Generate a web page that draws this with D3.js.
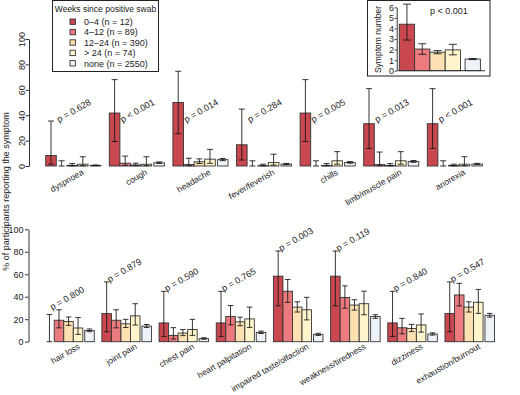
<!DOCTYPE html>
<html><head><meta charset="utf-8">
<script src="https://cdn.jsdelivr.net/npm/d3@7"></script>
<style>
body{margin:0;background:#fff;}
svg text{font-family:"Liberation Sans",Arial,Helvetica,sans-serif;fill:#222;}
</style></head>
<body><svg id="c" width="520" height="395"></svg>
<script>
// ---------- data ----------
const seriesLabels = ["0\u20134 (n = 12)","4\u201312 (n = 89)","12\u201324 (n = 390)","> 24 (n = 74)","none (n = 2550)"];
const seriesColors = ["#c9484f","#eb7b7e","#fde1b3","#fef5cd","#eef3fa"];

const topCategories = ["dyspnoea","cough","headache","fever/feverish","chills","limb/muscle pain","anorexia"];
const topP = ["p = 0.628","p < 0.001","p = 0.014","p = 0.284","p = 0.005","p = 0.013","p < 0.001"];
const top_w0_4    = [8.3, 41.7, 50.0, 16.7, 41.7, 33.3, 33.3];
const top_w0_4Lo  = [1.5, 19.3, 25.4, 4.7, 19.3, 13.8, 13.8];
const top_w0_4Hi  = [35.4, 68.0, 74.6, 44.8, 68.0, 60.9, 60.9];
const top_w4_12   = [0, 2.2, 1.1, 0, 0, 1.1, 0];
const top_w4_12Lo = [0, 0.6, 0.2, 0, 0, 0.2, 0];
const top_w4_12Hi = [4.1, 7.8, 6.1, 4.1, 4.1, 11.0, 4.1];
const top_w12_24   = [0.5, 0.8, 3.3, 0.3, 0.5, 0.5, 0.5];
const top_w12_24Lo = [0.1, 0.3, 2.0, 0.05, 0.1, 0.1, 0.1];
const top_w12_24Hi = [1.9, 2.2, 5.6, 1.4, 1.9, 1.9, 1.4];
const top_w24   = [1.4, 1.4, 5.4, 2.7, 4.1, 4.1, 1.4];
const top_w24Lo = [0.2, 0.2, 2.1, 0.7, 1.4, 1.4, 0.2];
const top_w24Hi = [7.3, 7.3, 13.1, 9.3, 11.3, 11.3, 7.3];
const top_none   = [0.5, 2.5, 5.0, 1.5, 2.8, 3.5, 1.5];
const top_noneLo = [0.3, 2.0, 4.2, 1.1, 2.2, 2.9, 1.1];
const top_noneHi = [0.8, 3.2, 5.9, 2.0, 3.5, 4.3, 2.1];

const botCategories = ["hair loss","joint pain","chest pain","heart palpitation","impaired taste/olfaction","weakness/tiredness","dizziness","exhaustion/burnout"];
const botP = ["p = 0.800","p = 0.879","p = 0.590","p = 0.765","p = 0.003","p = 0.119","p = 0.840","p = 0.547"];
const bot_w0_4    = [0, 25.0, 16.7, 16.7, 58.3, 58.3, 16.7, 25.0];
const bot_w0_4Lo  = [0, 8.9, 4.7, 4.7, 31.9, 31.9, 4.7, 8.9];
const bot_w0_4Hi  = [24.2, 53.2, 44.8, 44.8, 80.7, 80.7, 44.8, 53.2];
const bot_w4_12   = [19.1, 19.1, 5.6, 22.5, 44.9, 39.3, 12.4, 41.6];
const bot_w4_12Lo = [12.3, 12.3, 2.4, 15.0, 35.0, 29.8, 7.0, 31.9];
const bot_w4_12Hi = [28.4, 28.4, 12.5, 32.2, 55.3, 49.7, 20.8, 51.9];
const bot_w12_24   = [17.9, 15.9, 7.7, 17.7, 30.8, 32.6, 11.8, 30.8];
const bot_w12_24Lo = [14.5, 12.6, 5.4, 14.2, 26.4, 28.1, 9.0, 26.4];
const bot_w12_24Hi = [22.0, 19.9, 10.8, 21.8, 35.5, 37.3, 15.4, 35.5];
const bot_w24   = [12.2, 23.0, 10.8, 20.3, 28.4, 33.8, 14.9, 35.1];
const bot_w24Lo = [6.5, 14.8, 5.6, 12.7, 19.4, 24.0, 8.5, 25.2];
const bot_w24Hi = [21.5, 33.8, 19.9, 30.8, 39.5, 44.9, 24.7, 46.5];
const bot_none   = [10.0, 13.9, 2.7, 8.3, 6.5, 22.4, 6.8, 23.5];
const bot_noneLo = [8.9, 12.6, 2.2, 7.3, 5.6, 20.8, 5.9, 21.9];
const bot_noneHi = [11.3, 15.3, 3.5, 9.4, 7.5, 24.0, 7.9, 25.2];

const pctTicks = [0, 20, 40, 60, 80, 100];

const symptomNumber   = [4.4, 2.05, 1.75, 1.97, 1.1];
const symptomNumberLo = [2.9, 1.55, 1.6, 1.5, 1.05];
const symptomNumberHi = [6.3, 2.55, 1.9, 2.5, 1.15];
const symptomTicks = [0,1,2,3,4,5,6];
const symptomP = "p < 0.001";

// ---------- drawing ----------
const svg = d3.select("#c");
const FS = 9;
const CAT_FS = 8.5;
const slotOffsets = [0, 1, 2, 3, 4.2];
const UNITS = 6;
const errColor = "rgba(20,20,20,0.85)";
const intFmt = d3.format("d");

function drawPanel(cfg){
  const g = svg.append("g");
  const n = cfg.cats.length;
  const x = d3.scaleLinear().domain([0, n*UNITS]).range([cfg.x0, cfg.x0 + n*UNITS*cfg.bw]);
  const y = d3.scaleLinear().domain([0,100]).range([cfg.yBottom, cfg.yTop]);
  const bw = x(1) - x(0);
  const vals = [cfg.v0,cfg.v1,cfg.v2,cfg.v3,cfg.v4];
  const los = [cfg.l0,cfg.l1,cfg.l2,cfg.l3,cfg.l4];
  const his = [cfg.h0,cfg.h1,cfg.h2,cfg.h3,cfg.h4];

  const ax = g.append("g").attr("transform",`translate(${cfg.axisX},0)`)
    .call(d3.axisLeft(y).tickValues(pctTicks).tickFormat(intFmt).tickSize(3.5).tickSizeOuter(0).tickPadding(1.5));
  ax.select(".domain").attr("stroke","#333");
  ax.selectAll(".tick line").attr("stroke","#333");
  ax.selectAll(".tick text").attr("font-size",FS).attr("fill","#222")
    .style("font-family","'Liberation Sans',Arial,sans-serif");
  if(cfg.rotTicks){
    ax.selectAll(".tick text").attr("transform","rotate(-90)")
      .attr("x",0).attr("y",-4.5).attr("dy",0).attr("text-anchor","middle");
  }

  for(let j=0;j<5;j++){
    for(let i=0;i<n;i++){
      const bx = x(i*UNITS + slotOffsets[j]);
      const v = vals[j][i];
      g.append("rect").attr("x",bx).attr("y",y(v)).attr("width",bw)
        .attr("height",Math.max(0,y(0)-y(v)))
        .attr("fill",seriesColors[j]).attr("stroke","#333").attr("stroke-width",0.9);
    }
  }
  for(let j=0;j<5;j++){
    for(let i=0;i<n;i++){
      const cx = x(i*UNITS + slotOffsets[j]) + bw/2;
      const lo = los[j][i], hi = his[j][i];
      const cw = cfg.cap/2;
      g.append("line").attr("x1",cx).attr("x2",cx).attr("y1",y(lo)).attr("y2",y(hi))
        .attr("stroke",errColor).attr("stroke-width",1);
      [lo,hi].forEach(e=>{
        g.append("line").attr("x1",cx-cw).attr("x2",cx+cw).attr("y1",y(e)).attr("y2",y(e))
          .attr("stroke",errColor).attr("stroke-width",1);
      });
    }
  }
  for(let i=0;i<n;i++){
    const cx = x(i*UNITS + 2.6);
    g.append("text").attr("text-anchor","end").attr("font-size",CAT_FS)
      .attr("transform",`translate(${cx+11},${cfg.yBottom+cfg.labelDy}) rotate(-30)`)
      .text(cfg.cats[i]);
  }
  for(let i=0;i<n;i++){
    let px, py;
    if(cfg.pFixed !== undefined){
      px = x(i*UNITS + 1.25); py = y(cfg.pFixed);
    } else {
      px = x(i*UNITS + 0.8);
      py = y(d3.max(his, h=>h[i])) + 0.5;
    }
    g.append("text").attr("font-size",FS)
      .attr("transform",`translate(${px},${py}) rotate(-30)`)
      .text(cfg.p[i]);
  }
}

drawPanel({cats:topCategories,p:topP,x0:45.7,bw:10.6,yBottom:166,yTop:39,axisX:29,rotTicks:true,cap:6,pFixed:34,labelDy:8,
  v0:top_w0_4,l0:top_w0_4Lo,h0:top_w0_4Hi,v1:top_w4_12,l1:top_w4_12Lo,h1:top_w4_12Hi,
  v2:top_w12_24,l2:top_w12_24Lo,h2:top_w12_24Hi,v3:top_w24,l3:top_w24Lo,h3:top_w24Hi,
  v4:top_none,l4:top_noneLo,h4:top_noneHi});

drawPanel({cats:botCategories,p:botP,x0:44.7,bw:9.53,yBottom:341.7,yTop:229.3,axisX:28.5,rotTicks:false,cap:5.5,labelDy:6.5,
  v0:bot_w0_4,l0:bot_w0_4Lo,h0:bot_w0_4Hi,v1:bot_w4_12,l1:bot_w4_12Lo,h1:bot_w4_12Hi,
  v2:bot_w12_24,l2:bot_w12_24Lo,h2:bot_w12_24Hi,v3:bot_w24,l3:bot_w24Lo,h3:bot_w24Hi,
  v4:bot_none,l4:bot_noneLo,h4:bot_noneHi});

svg.append("text").attr("font-size",FS).attr("text-anchor","middle")
  .attr("transform","translate(8.5,191.5) rotate(-90)")
  .text("% of participants reporting the symptom");

// legend
const lg = svg.append("g");
lg.append("rect").attr("x",52.5).attr("y",0.5).attr("width",106).attr("height",71)
  .attr("fill","#fff").attr("stroke","#222").attr("stroke-width",1);
lg.append("text").attr("x",105.5).attr("y",11.5).attr("text-anchor","middle").attr("font-size",8.5)
  .text("Weeks since positive swab");
const ly = d3.scaleLinear().domain([0,4]).range([21.7,63.3]);
seriesLabels.forEach((s,j)=>{
  lg.append("rect").attr("x",70).attr("y",ly(j)-2.7).attr("width",5.4).attr("height",5.4)
    .attr("fill",seriesColors[j]).attr("stroke","#333").attr("stroke-width",0.9);
  lg.append("text").attr("x",84).attr("y",ly(j)+3.2).attr("font-size",FS).text(s);
});

// inset: symptom number
const ig = svg.append("g");
ig.append("rect").attr("x",367.5).attr("y",0.5).attr("width",122.5).attr("height",75.5)
  .attr("fill","#fff").attr("stroke","#222").attr("stroke-width",1);
const iy = d3.scaleLinear().domain([0,6]).range([70.7,7.3]);
const ix = d3.scaleLinear().domain([0,1]).range([399.3,414.6]);
const ibw = ix(1)-ix(0);
const iax = ig.append("g").attr("transform","translate(396.7,0)")
  .call(d3.axisLeft(iy).tickValues(symptomTicks).tickFormat(intFmt).tickSize(2).tickSizeOuter(0).tickPadding(0.8));
iax.select(".domain").attr("stroke","#333");
iax.selectAll(".tick line").attr("stroke","#333");
iax.selectAll(".tick text").attr("font-size",FS).attr("fill","#222")
  .style("font-family","'Liberation Sans',Arial,sans-serif");
ig.append("text").attr("font-size",8.5).attr("text-anchor","middle")
  .attr("transform","translate(381,39.5) rotate(-90)").text("Symptom number");
const iOff = [0,1,2,3,4.3];
symptomNumber.forEach((v,j)=>{
  ig.append("rect").attr("x",ix(iOff[j])).attr("y",iy(v)).attr("width",ibw).attr("height",iy(0)-iy(v))
    .attr("fill",seriesColors[j]).attr("stroke","#333").attr("stroke-width",0.9);
});
ig.append("line").attr("x1",ix(-0.1)).attr("x2",ix(5.6)).attr("y1",iy(0)).attr("y2",iy(0))
  .attr("stroke","#333").attr("stroke-width",1);
symptomNumber.forEach((v,j)=>{
  const cx = ix(iOff[j]) + ibw/2;
  const lo = symptomNumberLo[j], hi = symptomNumberHi[j];
  ig.append("line").attr("x1",cx).attr("x2",cx).attr("y1",iy(lo)).attr("y2",iy(hi))
    .attr("stroke",errColor);
  [lo,hi].forEach(e=>ig.append("line").attr("x1",cx-4).attr("x2",cx+4).attr("y1",iy(e)).attr("y2",iy(e))
    .attr("stroke",errColor));
});
ig.append("text").attr("x",449).attr("y",14).attr("text-anchor","middle").attr("font-size",FS).text(symptomP);
</script></body></html>
